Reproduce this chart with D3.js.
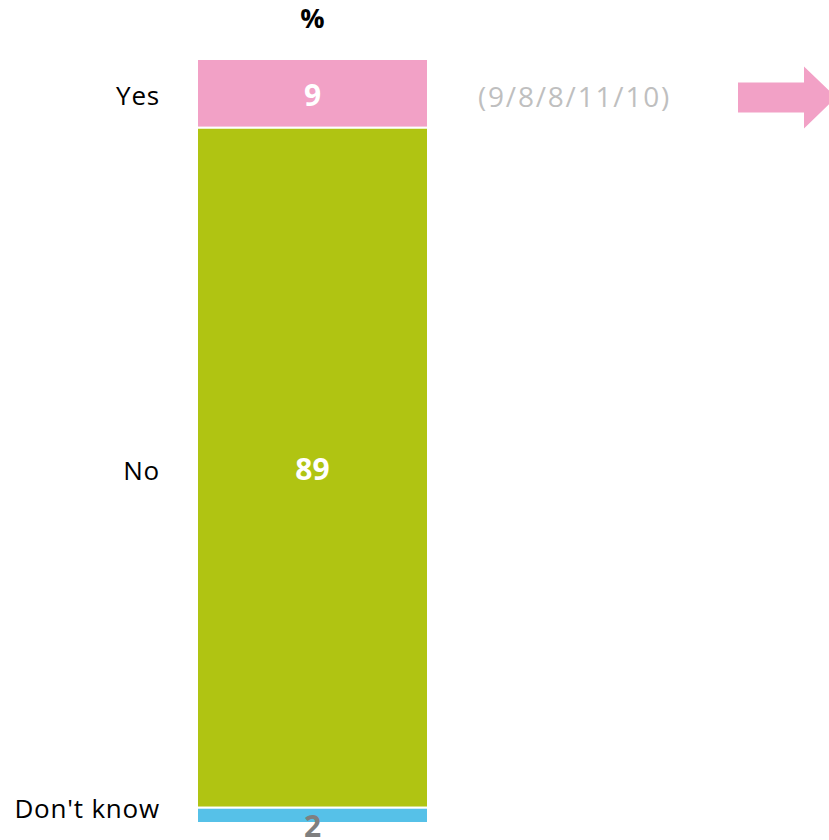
<!DOCTYPE html>
<html>
<head>
<meta charset="utf-8">
<script src="https://cdn.jsdelivr.net/npm/d3@7"></script>
<style>
  body { margin: 0; background: #fff; }
  svg { display: block; font-family: "Open Sans", "Liberation Sans", sans-serif; }
</style>
</head>
<body>
<svg id="chart" width="829" height="840"></svg>
<script>
// Data
var categories = ['Yes', 'No', "Don't know"];
var values = [9, 89, 2];
var colors = ['#f2a1c6', '#b0c412', '#56c1e8'];
var trendLabel = '(9/8/8/11/10)';

var svg = d3.select('#chart');

// Scales
var y = d3.scaleLinear().domain([0, 100]).range([59, 823]);
var x = d3.scaleBand().domain(['total']).range([197, 428]).padding(0);

// Stack the single bar
var stack = [];
var acc = 0;
values.forEach(function(v, i) {
    stack.push({ key: categories[i], value: v, y0: acc, y1: acc + v, color: colors[i] });
    acc += v;
});

var cx = x('total') + x.bandwidth() / 2;

// Header
svg.append('text')
    .attr('x', cx)
    .attr('y', 19)
    .attr('dy', '0.35em')
    .attr('text-anchor', 'middle')
    .style('font-weight', 'bold')
    .style('font-size', '27px')
    .text('%');

// Segments
svg.selectAll('.seg')
    .data(stack)
    .enter().append('rect')
        .attr('class', 'seg')
        .attr('x', x('total'))
        .attr('width', x.bandwidth())
        .attr('y', function(d) { return y(d.y0); })
        .attr('height', function(d) { return y(d.y1) - y(d.y0); })
        .style('fill', function(d) { return d.color; })
        .style('stroke', '#fff')
        .style('stroke-width', 2);

// Value labels (small segment gets its label below the bar)
svg.selectAll('.val')
    .data(stack)
    .enter().append('text')
        .attr('class', 'val')
        .attr('x', cx)
        .attr('y', function(d) {
            return d.value < 5 ? y(d.y1) + 3 : (y(d.y0) + y(d.y1)) / 2 + 2;
        })
        .attr('dy', '0.35em')
        .attr('text-anchor', 'middle')
        .style('font-weight', 'bold')
        .style('font-size', '30px')
        .style('fill', function(d) { return d.value < 5 ? '#7f7f7f' : '#fff'; })
        .text(function(d) { return d.value; });

// Category labels
svg.selectAll('.cat')
    .data(stack)
    .enter().append('text')
        .attr('class', 'cat')
        .attr('x', 160)
        .attr('y', function(d, i) {
            return i === stack.length - 1 ? y(d.y0) + 1 : (y(d.y0) + y(d.y1)) / 2 + 3;
        })
        .attr('dy', '0.35em')
        .attr('text-anchor', 'end')
        .style('font-size', '26px')
        .style('letter-spacing', '0.8px')
        .style('fill', '#000')
        .text(function(d) { return d.key; });

// Trend text next to the Yes segment
var yesMid = (y(stack[0].y0) + y(stack[0].y1)) / 2 + 4;
svg.append('text')
    .attr('x', 478)
    .attr('y', yesMid)
    .attr('dy', '0.35em')
    .style('font-size', '28px')
    .style('letter-spacing', '1.8px')
    .style('fill', '#bfbfbf')
    .text(trendLabel);

// Arrow
var arrow = d3.path();
arrow.moveTo(738, yesMid - 15);
arrow.lineTo(804, yesMid - 15);
arrow.lineTo(804, yesMid - 31);
arrow.lineTo(836, yesMid);
arrow.lineTo(804, yesMid + 31);
arrow.lineTo(804, yesMid + 15);
arrow.lineTo(738, yesMid + 15);
arrow.closePath();
svg.append('path')
    .attr('d', arrow.toString())
    .style('fill', colors[0]);
</script>
</body>
</html>
